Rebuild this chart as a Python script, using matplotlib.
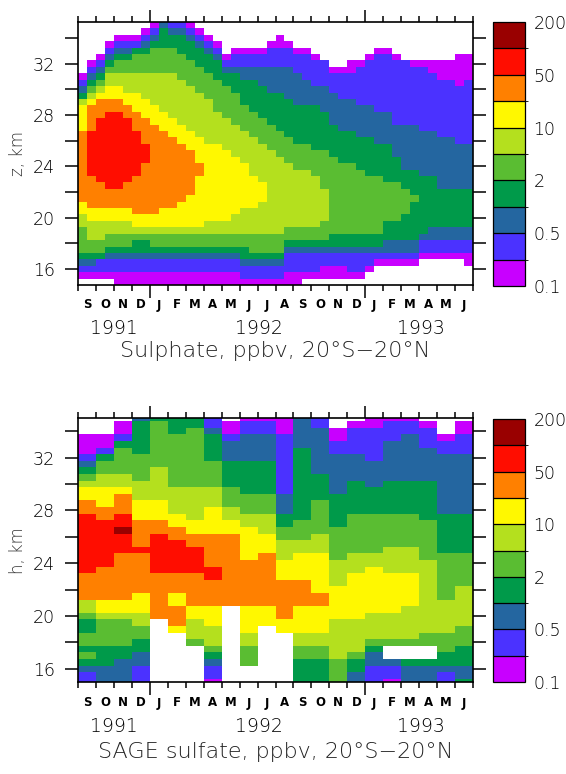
import numpy as np
import matplotlib.pyplot as plt
from matplotlib.colors import ListedColormap, BoundaryNorm
from matplotlib.cm import ScalarMappable

plt.rcParams['font.family'] = ['DejaVu Sans']

# colour classes, ppbv
levels = [0.1, 0.2, 0.5, 1, 2, 5, 10, 20, 50, 100, 200]
level_ticks = [0.1, 0.5, 2, 10, 50, 200]
level_ticklabels = ['0.1', '0.5', '2', '10', '50', '200']
colours = ['#c800ff', '#4b32ff', '#2466a0', '#009a4a', '#5abd32',
           '#b4e01e', '#fff800', '#ff8000', '#ff0d00', '#990000']

month_letters = ['S', 'O', 'N', 'D', 'J', 'F', 'M', 'A', 'M', 'J', 'J', 'A',
                 'S', 'O', 'N', 'D', 'J', 'F', 'M', 'A', 'M', 'J']
year_labels = ['1991', '1992', '1993']
year_centres = [2.0, 10.1, 19.1]      # months after 1 Sep 1991

z_rows = np.arange(15.0, 35.01, 0.5)  # grid level centres, km

# --- model sulphate: lower / upper height (km) of each class, half-month columns ---
hi_01 = [31.25, 32.25, 32.75, 33.75, 34.25, 34.25, 34.25, 34.75, 35.25, 35.25, 35.25,
         35.25, 35.25, 34.75, 34.25, 33.75, 32.75, 33.25, 33.25, 33.25, 33.25, 33.75,
         34.25, 33.75, 33.25, 33.25, 32.75, 32.25, 31.75, 31.75, 32.25, 32.25, 32.75,
         33.25, 33.25, 32.75, 32.25, 32.25, 32.25, 32.25, 32.25, 32.25, 32.75, 32.75]
lo_01 = [15.25, 15.25, 15.25, 15.25, 14.75, 14.75, 14.75, 14.75, 14.75, 14.75, 14.75,
         14.75, 14.75, 14.75, 14.75, 14.75, 14.75, 14.75, 14.75, 14.75, 14.75, 14.75,
         14.75, 14.75, 14.75, 15.25, 15.25, 15.25, 15.25, 15.25, 15.25, 15.25, 15.75,
         16.25, 16.25, 16.25, 16.25, 16.25, 16.75, 16.75, 16.75, 16.75, 16.75, 16.25]
hi_02 = [30.75, 31.75, 32.25, 33.25, 33.75, 33.75, 33.75, 34.25, 34.75, 35.25, 35.25,
         35.25, 34.75, 34.25, 33.75, 33.25, 32.25, 32.75, 32.75, 32.75, 32.75, 33.25,
         33.25, 33.25, 32.75, 32.75, 32.25, 32.25, 31.25, 31.25, 31.25, 31.75, 32.25,
         32.75, 32.75, 32.25, 32.25, 31.75, 31.75, 31.25, 30.75, 30.75, 30.25, 30.75]
lo_02 = [15.75, 15.75, 15.75, 15.75, 15.75, 15.75, 15.75, 15.75, 15.75, 15.75, 15.75,
         15.75, 15.75, 15.75, 15.75, 15.75, 15.75, 15.75, 15.25, 15.25, 15.25, 15.25,
         15.25, 15.75, 15.75, 15.75, 15.75, 16.25, 16.25, 16.25, 15.75, 15.75, 16.25,
         16.75, 16.75, 16.75, 16.75, 16.75, 17.25, 17.25, 17.25, 17.25, 17.25, 17.25]
hi_05 = [30.25, 31.25, 31.75, 32.75, 33.25, 33.25, 33.25, 33.75, 34.25, 35.25, 34.75,
         34.75, 34.25, 33.75, 33.25, 32.75, 31.75, 31.75, 31.75, 31.75, 31.75, 31.75,
         31.75, 31.75, 31.25, 30.75, 30.25, 30.25, 29.75, 29.25, 29.25, 28.75, 28.75,
         28.25, 28.25, 27.25, 27.25, 27.25, 26.75, 26.75, 26.25, 26.25, 25.75, 25.75]
lo_05 = [16.25, 16.25, 16.75, 16.75, 16.75, 16.75, 16.75, 16.75, 16.75, 16.75, 16.75,
         16.75, 16.75, 16.75, 16.75, 16.75, 16.75, 16.75, 16.25, 16.25, 16.25, 16.25,
         16.25, 17.25, 17.25, 17.25, 17.25, 17.25, 17.25, 17.25, 17.25, 17.25, 17.25,
         17.25, 17.25, 17.25, 17.25, 17.25, 18.25, 18.25, 18.25, 18.25, 18.25, 18.25]
hi_1 = [29.75, 30.75, 31.25, 32.25, 32.75, 32.75, 33.25, 33.25, 33.75, 34.75, 34.25,
        34.25, 33.75, 33.25, 32.75, 32.25, 31.25, 31.25, 30.75, 30.75, 30.25, 29.75,
        29.75, 29.25, 28.75, 28.75, 28.75, 28.25, 27.25, 26.75, 26.75, 26.25, 26.25,
        25.75, 25.75, 24.75, 23.75, 23.75, 23.25, 23.25, 22.25, 22.25, 22.25, 22.25]
lo_1 = [16.75, 16.75, 16.75, 17.25, 17.25, 17.25, 17.25, 17.25, 17.25, 17.25, 17.25,
        17.25, 17.25, 17.25, 17.25, 17.25, 17.25, 17.25, 16.75, 16.75, 16.75, 16.75,
        16.75, 17.75, 17.75, 17.75, 17.75, 17.75, 17.75, 17.75, 17.75, 17.75, 17.75,
        17.75, 18.25, 18.25, 18.25, 18.25, 18.75, 19.25, 19.25, 19.25, 19.25, 19.25]
hi_2 = [29.25, 30.25, 30.75, 31.75, 32.25, 32.25, 32.75, 32.75, 33.25, 33.25, 33.25,
        32.75, 32.25, 31.75, 31.25, 30.75, 30.25, 29.75, 28.75, 28.25, 27.75, 27.25,
        26.75, 26.25, 25.75, 25.75, 25.25, 25.25, 24.75, 24.25, 24.25, 23.75, 23.25,
        23.25, 22.75, 22.75, 22.25, 21.75, None, None, None, None, None, None]
lo_2 = [17.25, 17.25, 17.25, 17.75, 17.75, 17.75, 18.25, 18.25, 17.75, 17.75, 17.75,
        17.75, 17.75, 17.75, 17.75, 17.75, 17.75, 17.75, 17.75, 17.25, 17.25, 17.25,
        17.25, 18.25, 18.25, 18.25, 18.25, 18.25, 18.75, 18.75, 18.75, 18.75, 18.75,
        18.75, 19.75, 19.75, 20.25, 21.25, None, None, None, None, None, None]
hi_5 = [29.25, 29.75, 30.25, 31.25, 31.25, 31.25, 31.25, 31.25, 31.25, 31.25, 31.25,
        30.75, 30.25, 29.75, 29.25, 28.25, 27.75, 27.25, 26.75, 26.25, 25.75, 25.25,
        24.75, 24.25, 23.75, 23.75, 23.25, 22.25, None, None, None, None, None,
        None, None, None, None, None, None, None, None, None, None, None]
lo_5 = [19.25, 18.25, 18.25, 18.75, 18.75, 18.75, 18.75, 18.75, 18.75, 18.75, 18.75,
        18.75, 18.75, 18.75, 18.75, 18.75, 18.75, 18.75, 18.75, 18.75, 18.75, 18.75,
        18.75, 19.25, 19.25, 19.25, 19.25, 19.75, None, None, None, None, None,
        None, None, None, None, None, None, None, None, None, None, None]
hi_10 = [28.75, 29.25, 29.75, 30.25, 30.25, 29.75, 29.75, 29.25, 28.75, 28.25, 27.75,
         27.25, 26.75, 26.25, 25.75, 25.75, 25.25, 24.75, 24.25, 23.25, 22.75, None,
         None, None, None, None, None, None, None, None, None, None, None,
         None, None, None, None, None, None, None, None, None, None, None]
lo_10 = [20.25, 19.75, 19.75, 19.75, 19.75, 19.75, 19.25, 19.25, 19.25, 19.25, 19.25,
         19.25, 19.25, 19.25, 19.75, 19.75, 19.75, 20.25, 20.75, 20.75, 21.25, None,
         None, None, None, None, None, None, None, None, None, None, None,
         None, None, None, None, None, None, None, None, None, None, None]
hi_20 = [26.75, 28.75, 29.25, 29.25, 29.25, 28.75, 28.25, 27.75, 27.25, 26.75, 26.25,
         25.75, 25.25, 24.25, None, None, None, None, None, None, None, None,
         None, None, None, None, None, None, None, None, None, None, None,
         None, None, None, None, None, None, None, None, None, None, None]
lo_20 = [21.25, 20.75, 20.75, 20.75, 20.75, 20.75, 20.25, 20.25, 20.25, 20.75, 20.75,
         21.25, 21.75, 23.25, None, None, None, None, None, None, None, None,
         None, None, None, None, None, None, None, None, None, None, None,
         None, None, None, None, None, None, None, None, None, None, None]
hi_50 = [None, 26.75, 27.75, 28.25, 28.25, 27.75, 26.75, 25.75, None, None, None,
         None, None, None, None, None, None, None, None, None, None, None,
         None, None, None, None, None, None, None, None, None, None, None,
         None, None, None, None, None, None, None, None, None, None, None]
lo_50 = [None, 23.25, 22.75, 22.25, 22.25, 22.75, 23.25, 24.25, None, None, None,
         None, None, None, None, None, None, None, None, None, None, None,
         None, None, None, None, None, None, None, None, None, None, None,
         None, None, None, None, None, None, None, None, None, None, None]

# --- SAGE sulfate: class index per month (columns) and level, top row = 35 km ---
sage_rows = [
    "...23331.00021..000...",
    "..034331011021.00110.0",
    "..034342011022011111.0",
    "0013444312212201112101",
    "0033444322212211122111",
    "0143444322213211122211",
    "1344444322213222122222",
    "2444444433313222222222",
    "3444544433313222222222",
    "4554544433313322222222",
    "5555544433313323233322",
    "6665555543313323333322",
    "6675555544423333333322",
    "7676655544423433333322",
    "7776655654423433333322",
    "8786665655533434444333",
    "8887766665534434444433",
    "8897776666544444444433",
    "8887877776644544444433",
    "8887887776655544444433",
    "8888888776655544455433",
    "8877888776756645555444",
    "8877888777766655555544",
    "8777888877766655655544",
    "7777777877766656666544",
    "7777777777777656666544",
    "7777777777777666666545",
    "7776767777777766666545",
    "5666767777777766666555",
    "56667766.6676666665555",
    "45557766.6676666555555",
    "3445.756.6666655555555",
    "3444.655.6.66655555554",
    "4444..55.5..5555555444",
    "4443..45.5..5555444444",
    "3333...4.4..44553...43",
    "4332...3.4..44542...33",
    "3322...2.4..3343223333",
    "2221...1....3343112222",
    "1221...1....3342112212",
    "1221...0....3342102213",
]

# build class grids
model_bands = [(lo_01, hi_01), (lo_02, hi_02), (lo_05, hi_05), (lo_1, hi_1), (lo_2, hi_2),
               (lo_5, hi_5), (lo_10, hi_10), (lo_20, hi_20), (lo_50, hi_50)]
model = np.full((len(z_rows), len(hi_01)), -1)
for k, (lo, hi) in enumerate(model_bands):
    lo = np.array(lo, dtype=float)
    hi = np.array(hi, dtype=float)
    inside = (z_rows[:, None] > lo[None, :]) & (z_rows[:, None] < hi[None, :])
    model[inside] = k

sage = np.array([[int(c) if c != '.' else -1 for c in row] for row in sage_rows])[::-1]

cmap = ListedColormap(colours)
code_norm = BoundaryNorm(np.arange(-0.5, 10.5, 1), cmap.N)
z_edges = np.append(z_rows - 0.25, z_rows[-1] + 0.25)

fig = plt.figure(figsize=(5.66, 7.74), dpi=100)
W, H = 566.0, 774.0


def px_axes(x0, y0, x1, y1):
    return fig.add_axes([x0 / W, 1 - y1 / H, (x1 - x0) / W, (y1 - y0) / H])


panels = [
    dict(ax=(78, 22, 473, 285), cb=(493, 22, 525, 286), data=model, ncol=len(hi_01),
         ylim=(14.75, 35.25), ylabel='z, km', ylab_y=154,
         title='Sulphate, ppbv, 20\u00b0S\u221220\u00b0N', offs=(20, 43, 66)),
    dict(ax=(78, 418, 473, 682), cb=(493, 419, 525, 682), data=sage, ncol=22,
         ylim=(15.0, 35.0), ylabel='h, km', ylab_y=551,
         title='SAGE sulfate, ppbv, 20\u00b0S\u221220\u00b0N', offs=(21, 45, 70)),
]

for p in panels:
    ax = px_axes(*p['ax'])
    t_edges = np.linspace(0, 22, p['ncol'] + 1)
    ax.pcolormesh(t_edges, z_edges, np.ma.masked_less(p['data'], 0),
                  cmap=cmap, norm=code_norm, shading='flat')
    ax.set_xlim(0, 22)
    ax.set_ylim(*p['ylim'])
    ax.set_yticks([16, 20, 24, 28, 32])
    ax.set_yticks([18, 22, 26, 30, 34], minor=True)
    ax.tick_params(axis='y', which='both', direction='out', length=9.5, width=1.1,
                   left=True, right=True, labelsize=12.5, pad=7, labelcolor='black')
    for lab in ax.get_yticklabels():
        lab.set_fontweight('light')
    ax.set_xticks([4, 16])
    ax.set_xticks(range(23), minor=True)
    ax.tick_params(axis='x', which='major', direction='out', length=9, width=1.1,
                   top=True, bottom=True, labelbottom=False)
    ax.tick_params(axis='x', which='minor', direction='out', length=4, width=1.1,
                   top=True, bottom=True)
    for s in ax.spines.values():
        s.set_linewidth(1.2)

    o_m, o_y, o_t = p['offs']
    for i, m in enumerate(month_letters):
        ax.annotate(m, xy=(i + 0.5, 0), xycoords=('data', 'axes fraction'),
                    xytext=(0, -o_m * 0.72), textcoords='offset points',
                    ha='center', va='center', fontsize=8.5, fontweight='bold')
    for yl, xc in zip(year_labels, year_centres):
        ax.annotate(yl, xy=(xc, 0), xycoords=('data', 'axes fraction'),
                    xytext=(0, -o_y * 0.72), textcoords='offset points',
                    ha='center', va='center', fontsize=13.5, color='black',
                    fontweight='light')
    ax.annotate(p['title'], xy=(0.5, 0), xycoords='axes fraction',
                xytext=(0, -o_t * 0.72), textcoords='offset points',
                ha='center', va='center', fontsize=16, color='#222222',
                fontweight='light')
    fig.text(18 / W, 1 - p['ylab_y'] / H, p['ylabel'], rotation=90,
             ha='center', va='center', fontsize=12, color='#333333', fontweight='light')

    cax = px_axes(*p['cb'])
    sm = ScalarMappable(norm=BoundaryNorm(levels, cmap.N), cmap=cmap)
    cb = fig.colorbar(sm, cax=cax, spacing='uniform', ticks=level_ticks, drawedges=True)
    cb.ax.set_yticklabels(level_ticklabels, fontweight='light')
    cb.ax.tick_params(length=0, labelsize=12.5, pad=6, labelcolor='black')
    cb.outline.set_linewidth(0.9)
    cb.dividers.set_linewidth(0.9)

fig.savefig('out.png', dpi=100)
